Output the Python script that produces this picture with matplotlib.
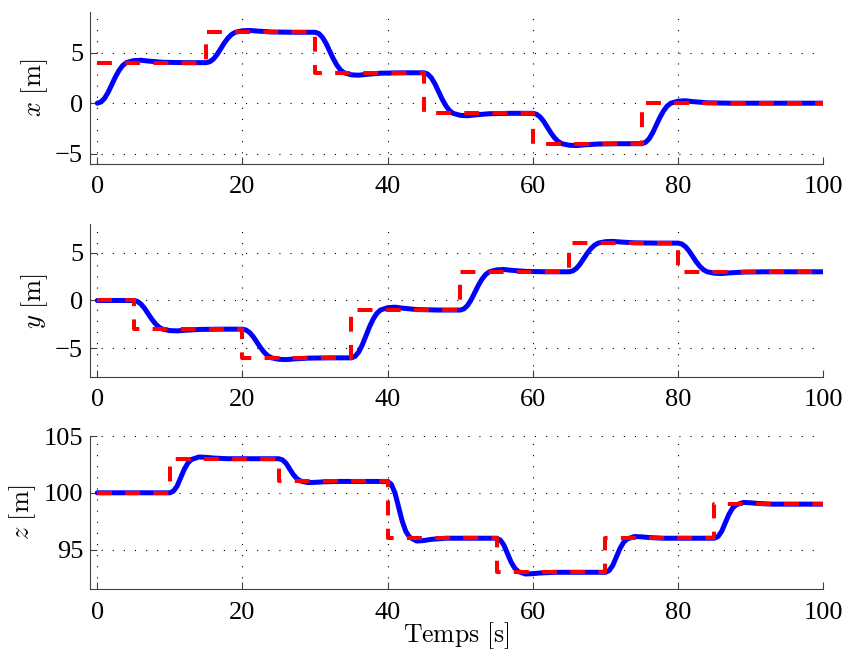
import matplotlib
matplotlib.use("Agg")
import matplotlib.pyplot as plt

plt.rcParams['mathtext.fontset'] = 'cm'
plt.rcParams['font.family'] = ['Liberation Serif', 'DejaVu Serif']
plt.rcParams['axes.unicode_minus'] = True

# consignes (steps, held until next time)
x_ref_t = [0, 15, 30, 45, 60, 75, 100]
x_ref = [4, 7, 3, -1, -4, 0, 0]
y_ref_t = [0, 5, 20, 35, 50, 65, 80, 100]
y_ref = [0, -3, -6, -1, 3, 6, 3, 3]
z_ref_t = [0, 10, 25, 40, 55, 70, 85, 100]
z_ref = [100, 103, 101, 96, 93, 96, 99, 99]

x_t = [0, 0.5, 1, 1.5, 2, 2.5, 3, 3.5, 4, 5, 6, 7, 9, 12,
       15, 15.5, 16, 16.5, 17, 17.5, 18, 18.5, 19, 20, 21, 22, 24, 27,
       30, 30.5, 31, 31.5, 32, 32.5, 33, 33.5, 34, 35, 36, 37, 39, 42,
       45, 45.5, 46, 46.5, 47, 47.5, 48, 48.5, 49, 50, 51, 52, 54, 57,
       60, 60.5, 61, 61.5, 62, 62.5, 63, 63.5, 64, 65, 66, 67, 69, 72,
       75, 75.5, 76, 76.5, 77, 77.5, 78, 78.5, 79, 80, 81, 82, 84, 87,
       100]
x_val = [0.0, 0.12, 0.48, 1.08, 1.84, 2.6, 3.24, 3.72, 4.0, 4.2, 4.24, 4.16, 4.04, 4.0,
         4.0, 4.09, 4.36, 4.81, 5.38, 5.95, 6.43, 6.79, 7.0, 7.15, 7.18, 7.12, 7.03, 7.0,
         7.0, 6.88, 6.52, 5.92, 5.16, 4.4, 3.76, 3.28, 3.0, 2.8, 2.76, 2.84, 2.96, 3.0,
         3.0, 2.88, 2.52, 1.92, 1.16, 0.4, -0.24, -0.72, -1.0, -1.2, -1.24, -1.16, -1.04, -1.0,
         -1.0, -1.09, -1.36, -1.81, -2.38, -2.95, -3.43, -3.79, -4.0, -4.15, -4.18, -4.12, -4.03, -4.0,
         -4.0, -3.88, -3.52, -2.92, -2.16, -1.4, -0.76, -0.28, 0.0, 0.2, 0.24, 0.16, 0.04, 0.0,
         0.0]

y_t = [0,
       5, 5.5, 6, 6.5, 7, 7.5, 8, 8.5, 9, 10, 11, 12, 14, 17,
       20, 20.5, 21, 21.5, 22, 22.5, 23, 23.5, 24, 25, 26, 27, 29, 32,
       35, 35.5, 36, 36.5, 37, 37.5, 38, 38.5, 39, 40, 41, 42, 44, 47,
       50, 50.5, 51, 51.5, 52, 52.5, 53, 53.5, 54, 55, 56, 57, 59, 62,
       65, 65.5, 66, 66.5, 67, 67.5, 68, 68.5, 69, 70, 71, 72, 74, 77,
       80, 80.5, 81, 81.5, 82, 82.5, 83, 83.5, 84, 85, 86, 87, 89, 92,
       100]
y_val = [0.0,
         0.0, -0.09, -0.36, -0.81, -1.38, -1.95, -2.43, -2.79, -3.0, -3.15, -3.18, -3.12, -3.03, -3.0,
         -3.0, -3.09, -3.36, -3.81, -4.38, -4.95, -5.43, -5.79, -6.0, -6.15, -6.18, -6.12, -6.03, -6.0,
         -6.0, -5.85, -5.4, -4.65, -3.7, -2.75, -1.95, -1.35, -1.0, -0.75, -0.7, -0.8, -0.95, -1.0,
         -1.0, -0.88, -0.52, 0.08, 0.84, 1.6, 2.24, 2.72, 3.0, 3.2, 3.24, 3.16, 3.04, 3.0,
         3.0, 3.09, 3.36, 3.81, 4.38, 4.95, 5.43, 5.79, 6.0, 6.15, 6.18, 6.12, 6.03, 6.0,
         6.0, 5.91, 5.64, 5.19, 4.62, 4.05, 3.57, 3.21, 3.0, 2.85, 2.82, 2.88, 2.97, 3.0,
         3.0]

z_t = [0,
       10, 10.5, 11, 11.5, 12, 12.5, 13, 14, 15, 16, 18, 22,
       25, 25.5, 26, 26.5, 27, 27.5, 28, 29, 30, 31, 33, 37,
       40, 40.5, 41, 41.5, 42, 42.5, 43, 44, 45, 46, 48, 52,
       55, 55.5, 56, 56.5, 57, 57.5, 58, 59, 60, 61, 63, 67,
       70, 70.5, 71, 71.5, 72, 72.5, 73, 74, 75, 76, 78, 82,
       85, 85.5, 86, 86.5, 87, 87.5, 88, 89, 90, 91, 93, 97,
       100]
z_val = [100.0,
         100.0, 100.15, 100.6, 101.35, 102.1, 102.64, 102.94, 103.15, 103.12, 103.06, 103.0, 103.0,
         103.0, 102.9, 102.6, 102.1, 101.6, 101.24, 101.04, 100.9, 100.92, 100.96, 101.0, 101.0,
         101.0, 100.75, 100.0, 98.75, 97.5, 96.6, 96.1, 95.75, 95.8, 95.9, 96.0, 96.0,
         96.0, 95.85, 95.4, 94.65, 93.9, 93.36, 93.06, 92.85, 92.88, 92.94, 93.0, 93.0,
         93.0, 93.15, 93.6, 94.35, 95.1, 95.64, 95.94, 96.15, 96.12, 96.06, 96.0, 96.0,
         96.0, 96.15, 96.6, 97.35, 98.1, 98.64, 98.94, 99.15, 99.12, 99.06, 99.0, 99.0,
         99.0]

xticks = [0, 20, 40, 60, 80, 100]
panels = [
    (x_t, x_val, x_ref_t, x_ref, (-6, 9), [-5, 0, 5], r'$x\ \mathrm{[m]}$'),
    (y_t, y_val, y_ref_t, y_ref, (-8, 8), [-5, 0, 5], r'$y\ \mathrm{[m]}$'),
    (z_t, z_val, z_ref_t, z_ref, (91.5, 105), [95, 100, 105], r'$z\ \mathrm{[m]}$'),
]
# axes boxes in figure fractions [left, bottom, width, height]
boxes = [
    [0.1068, 0.7489, 0.8698, 0.2327],
    [0.1068, 0.4227, 0.8698, 0.2343],
    [0.1068, 0.0975, 0.8698, 0.2348],
]

fig = plt.figure(figsize=(8.43, 6.53), dpi=100)
for (t, val, rt, rv, ylim, yticks, ylabel), box in zip(panels, boxes):
    ax = fig.add_axes(box)
    ax.plot(t, val, color='blue', lw=3.6, solid_capstyle='round', zorder=3)
    ax.step(rt, rv, where='post', color='red', lw=2.9, dashes=(3.7, 3.3), zorder=4)
    ax.set_xlim(-1, 100)
    ax.set_ylim(*ylim)
    ax.set_xticks(xticks)
    ax.set_yticks(yticks)
    ax.tick_params(direction='in', length=5, width=0.8, labelsize=19, color='0.25')
    ax.tick_params(axis='y', pad=5)
    ax.tick_params(axis='x', pad=9)
    ax.spines['top'].set_visible(False)
    ax.spines['right'].set_visible(False)
    ax.spines['left'].set_color('0.25')
    ax.spines['bottom'].set_color('0.25')
    ax.grid(True, color='black', lw=0.8, linestyle=(0, (1.0, 9.0)))
    ax.set_ylabel(ylabel, fontsize=19, labelpad=4)
    last = ax

last.set_xlabel(r'$\mathrm{Temps\ [s]}$', fontsize=18.5, labelpad=-2.5)

fig.savefig('out.png', dpi=100)
